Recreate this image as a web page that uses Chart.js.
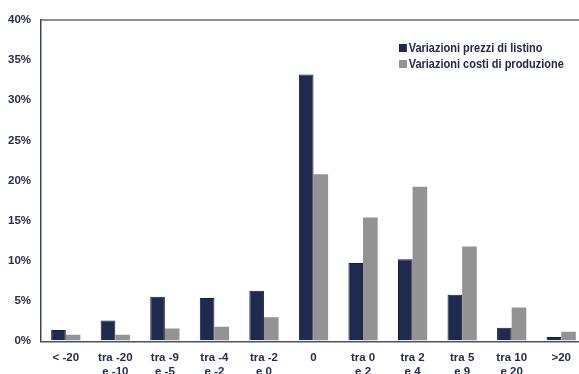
<!DOCTYPE html>
<html>
<head>
<meta charset="utf-8">
<script src="https://cdn.jsdelivr.net/npm/chart.js@4"></script>
<style>
  html, body { margin: 0; padding: 0; background: #fff; overflow: hidden; }
  #wrap { position: relative; width: 579px; height: 374px; overflow: hidden; }
  #box { position: absolute; left: 0; top: 0; width: 588px; height: 392px; }
  #legend { position: absolute; left: 399px; top: 40px; font: bold 12.5px "Liberation Sans", Arial, sans-serif; color: #222a4c; line-height: 16px; transform: scaleX(0.88); transform-origin: 0 0; }
  #legend div { white-space: nowrap; }
  #legend span.sw { display: inline-block; width: 9px; height: 8px; margin-right: 2px; vertical-align: 0px; }
</style>
</head>
<body>
<div id="wrap">
  <div id="box"><canvas id="c"></canvas></div>
  <div id="legend"></div>
</div>
<script>
const categories = [
  ['< -20'], ['tra -20', 'e -10'], ['tra -9', 'e -5'], ['tra -4', 'e -2'], ['tra -2', 'e 0'],
  ['0'], ['tra 0', 'e 2'], ['tra 2', 'e 4'], ['tra 5', 'e 9'], ['tra 10', 'e 20'], ['>20']
];
const seriesNames = ['Variazioni prezzi di listino', 'Variazioni costi di produzione'];
const prezziListino = [1.4, 2.6, 5.55, 5.4, 6.3, 33.2, 9.75, 10.2, 5.8, 1.7, 0.55];
const costiProduzione = [0.8, 0.8, 1.6, 1.8, 3.0, 20.8, 15.4, 19.25, 11.8, 4.2, 1.2];
const yTicks = [0, 5, 10, 15, 20, 25, 30, 35, 40];

const navy = '#1f2a4f';
const grey = '#939393';
const textColor = '#262d50';
const font = { family: '"Liberation Sans", Arial, sans-serif', size: 11.5, weight: 'bold' };

const chart = new Chart(document.getElementById('c'), {
  type: 'bar',
  data: {
    labels: categories,
    datasets: [
      { label: seriesNames[0], data: prezziListino, backgroundColor: navy, borderColor: '#151c38', borderWidth: { top: 1, left: 1, right: 1, bottom: 0 } },
      { label: seriesNames[1], data: costiProduzione, backgroundColor: grey, borderWidth: 0 }
    ]
  },
  options: {
    responsive: true,
    maintainAspectRatio: false,
    animation: false,
    layout: { padding: { top: 20, left: 0, right: 2, bottom: 0 } },
    datasets: { bar: { categoryPercentage: 0.59, barPercentage: 1.0 } },
    plugins: { legend: { display: false }, tooltip: { enabled: false } },
    scales: {
      x: {
        grid: { display: false, drawTicks: false },
        border: { display: true, color: '#4a5070', width: 1.5 },
        ticks: { color: textColor, font: font, padding: 10, maxRotation: 0, autoSkip: false },
        afterFit: s => { s.height = 50.7; }
      },
      y: {
        min: 0, max: 40,
        afterBuildTicks: s => { s.ticks = yTicks.map(v => ({ value: v })); },
        grid: { drawTicks: false, color: c => (c.tick && c.tick.value === 40) ? '#8a8fa2' : 'rgba(0,0,0,0)', lineWidth: 2 },
        border: { display: true, color: '#3c4262', width: 1.5 },
        ticks: { color: textColor, font: font, padding: 10, callback: v => v + '%' },
        afterFit: s => { s.width = 41; }
      }
    }
  }
});

// legend entries built from the datasets
const legend = document.getElementById('legend');
chart.data.datasets.forEach(ds => {
  const row = document.createElement('div');
  const sw = document.createElement('span');
  sw.className = 'sw';
  sw.style.background = ds.backgroundColor;
  row.appendChild(sw);
  row.appendChild(document.createTextNode(ds.label));
  legend.appendChild(row);
});
</script>
</body>
</html>
